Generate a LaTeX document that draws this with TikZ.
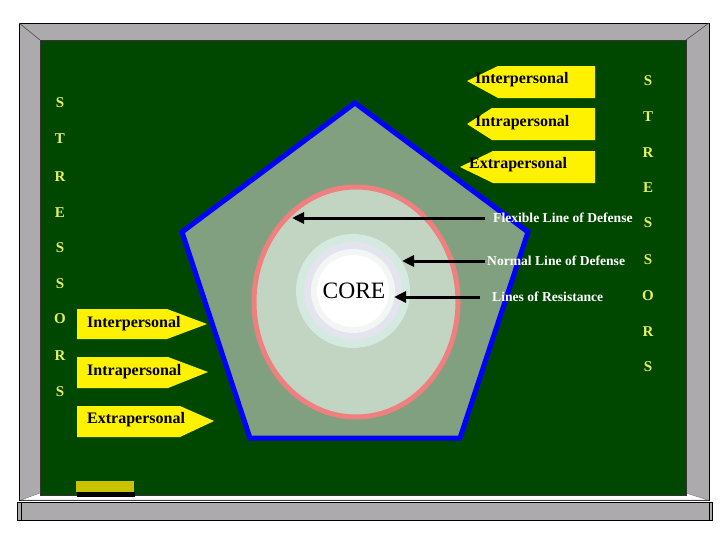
\documentclass[tikz,border=0pt]{standalone}
\usepackage{fontspec}
\setmainfont{Liberation Serif}
\usetikzlibrary{arrows.meta}
\definecolor{boardgreen}{RGB}{0,72,0}
\definecolor{framegray}{RGB}{172,170,172}
\definecolor{pentfill}{RGB}{128,160,128}
\definecolor{ellfill}{RGB}{194,212,194}
\definecolor{pinkline}{RGB}{240,128,128}
\definecolor{stressyellow}{RGB}{228,238,96}
\definecolor{eraseryellow}{RGB}{200,194,0}
\definecolor{ringmint}{RGB}{212,234,224}
\definecolor{ringlav}{RGB}{228,228,238}
\definecolor{ringpale}{RGB}{242,246,244}
\begin{document}
\begin{tikzpicture}[x=1pt,y=-1pt,
  signbox/.style={fill=yellow,draw=none},
  signtext/.style={anchor=west,inner sep=0pt,font=\fontsize{16}{18}\selectfont\bfseries,text=black},
  lbl/.style={anchor=west,inner sep=0pt,font=\fontsize{13.6}{16}\selectfont\bfseries,text=white},
  stress/.style={inner sep=0pt,font=\fontsize{15}{17}\selectfont\bfseries,text=stressyellow},
  ptr/.style={line width=3pt,-{Triangle[length=12pt,width=11pt]}}]
\useasboundingbox (0,0) rectangle (728,546);
\fill[white] (0,0) rectangle (728,546);
% frame
\fill[framegray,draw=black,line width=0.8pt] (19,23) rectangle (709,500);
\fill[white,draw=gray,line width=0.5pt] (21,500) -- (40,493) -- (686,493) -- (708,500) -- cycle;
\draw[gray!60!black,line width=0.6pt] (19,23) -- (40,40) (709,23) -- (686,40);
\fill[boardgreen,draw=black!80,line width=0.6pt] (40,40) rectangle (686,495);
% tray
\fill[framegray,draw=black,line width=0.8pt] (17,502) rectangle (712,520);
\draw[black,line width=0.6pt] (21,502) -- (21,520) (709,502) -- (709,520);
% eraser
\fill[eraseryellow] (76,481) rectangle (134,492);
\fill[black] (77,492) rectangle (135,497);
% pentagon
\draw[blue,fill=pentfill,line width=5pt,line join=miter]
  (355,103) -- (528,232) -- (460,438) -- (250,438) -- (182,232) -- cycle;
% ellipse
\draw[pinkline,fill=ellfill,line width=5pt] (356,302) ellipse [x radius=102, y radius=115];
% core rings
\fill[ringmint] (353,291) circle [radius=57];
\fill[ringlav] (353,291) circle [radius=49];
\fill[ringpale] (353,291) circle [radius=42];
\fill[white] (353,291) circle [radius=36];
\node[inner sep=0pt,font=\fontsize{23.5}{26}\selectfont] (core) at (354,291) {CORE};
% labels and arrows
\node[lbl] (flex) at (493,218) {Flexible Line of Defense};
\node[lbl] (norm) at (487,261) {Normal Line of Defense};
\node[lbl] (resi) at (492,297) {Lines of Resistance};
\coordinate (flexT) at (292,218);
\coordinate (normT) at (402,261);
\coordinate (resiT) at (394,297);
\draw[ptr,shorten <=8pt] (flex.west) -- (flexT);
\draw[ptr,shorten <=2pt] (norm.west) -- (normT);
\draw[ptr,shorten <=12pt] (resi.west) -- (resiT);
% left signs
\fill[signbox] (77,309) -- (167,309) -- (207,324) -- (167,339) -- (77,339) -- cycle;
\fill[signbox] (77,357) -- (168,357) -- (208,372) -- (168,388) -- (77,388) -- cycle;
\fill[signbox] (77,406) -- (180,406) -- (214,421) -- (180,437) -- (77,437) -- cycle;
\node[signtext] (li1) at (87,324) {Interpersonal};
\node[signtext] (li2) at (87,372) {Intrapersonal};
\node[signtext] (li3) at (87,420) {Extrapersonal};
% right signs
\fill[signbox] (595,66) -- (498,66) -- (467,81) -- (498,98) -- (595,98) -- cycle;
\fill[signbox] (595,108) -- (492,108) -- (467,124) -- (492,140) -- (595,140) -- cycle;
\fill[signbox] (595,151) -- (493,151) -- (460,167) -- (493,183) -- (595,183) -- cycle;
\node[signtext] (ri1) at (475,80) {Interpersonal};
\node[signtext] (ri2) at (475,123) {Intrapersonal};
\node[signtext] (ri3) at (469,165) {Extrapersonal};
% stressors columns
\foreach \l/\y [count=\i] in {S/103,T/139,R/177,E/213,S/248,S/284,O/319,R/356,S/392}
  \node[stress] (sl\i) at (60,\y) {\l};
\foreach \l/\y [count=\i] in {S/81,T/117,R/153,E/188,S/223,S/260,O/296,R/332,S/367}
  \node[stress] (sr\i) at (648,\y) {\l};
\end{tikzpicture}
\end{document}
